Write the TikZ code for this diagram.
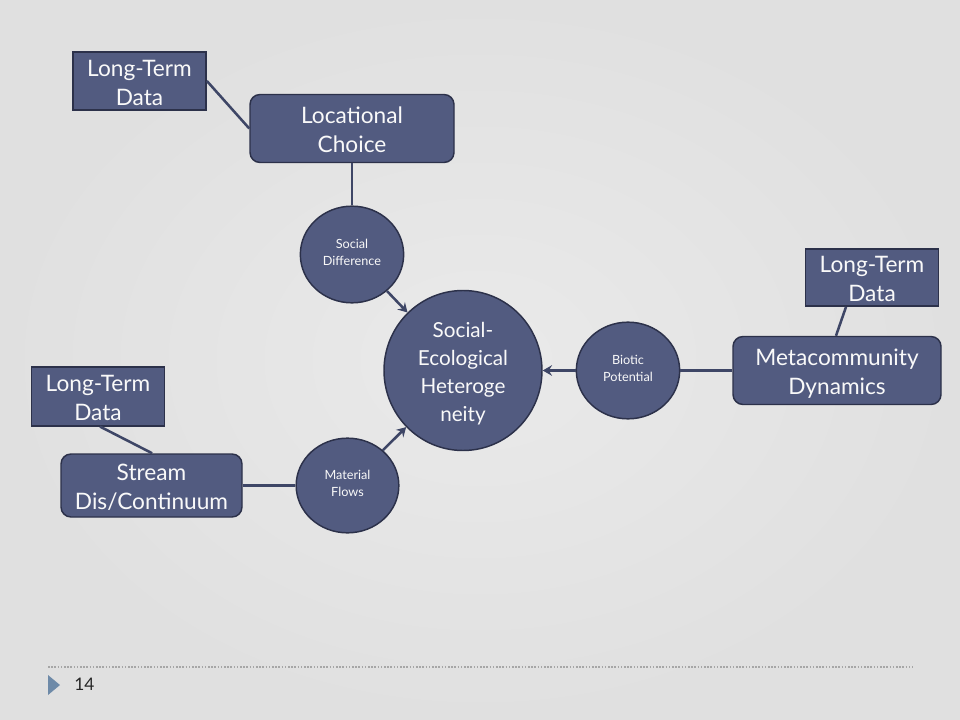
\documentclass[tikz,border=0pt]{standalone}
\usepackage{fontspec}
\setmainfont{Lato}
\usetikzlibrary{arrows.meta,shapes.geometric}
\definecolor{bgin}{RGB}{234,234,234}
\definecolor{bgout}{RGB}{224,224,224}
\definecolor{boxfill}{RGB}{82,91,128}
\definecolor{boxline}{RGB}{44,49,74}
\definecolor{linkcol}{RGB}{62,70,102}
\definecolor{tri}{RGB}{110,138,168}
\newcommand\lowtxt[2]{\raisebox{-#1}[\height][\depth]{\begin{tabular}{@{}c@{}}#2\end{tabular}}}
\tikzset{
  base/.style={fill=boxfill,draw=boxline,line width=1.1pt,text=white!95!gray,align=center,inner sep=0pt},
  datbox/.style={base,rectangle,minimum width=100pt,minimum height=43.5pt,font=\fontsize{17}{21.5}\selectfont},
  bigbox/.style={base,rectangle,rounded corners=7.5pt,minimum height=51pt,font=\fontsize{17}{21.5}\selectfont},
  smallell/.style={base,ellipse,minimum width=77.5pt,minimum height=72.5pt,font=\fontsize{9.5}{13}\selectfont},
  hub/.style={base,ellipse,minimum width=118.5pt,minimum height=120pt,font=\fontsize{15.5}{21}\selectfont},
  link/.style={draw=linkcol,line width=1.9pt},
  arr/.style={link,-{Stealth[length=7pt,width=8pt,inset=2.5pt]}},
}
\begin{document}
\begin{tikzpicture}[x=0.75pt,y=-0.75pt]
\useasboundingbox (0,0) rectangle (960,720);
\shade[inner color=bgin,outer color=bgout] (0,0) rectangle (960,720);

\node[datbox] (ltda) at (139.5,81) {\lowtxt{3pt}{Long-Term\\Data}};
\node[bigbox,minimum width=153pt] (loc) at (352,128.5) {\lowtxt{3pt}{Locational\\Choice}};
\node[smallell] (sd) at (352,254.5) {\lowtxt{-0.5pt}{Social\\Difference}};
\node[hub] (hub) at (463,370.5) {\lowtxt{2.25pt}{Social-\\Ecological\\Heteroge\\neity}};
\node[smallell] (bp) at (628,370.5) {\lowtxt{-0.5pt}{Biotic\\Potential}};
\node[bigbox,minimum width=156pt] (meta) at (837,370.5) {\lowtxt{3pt}{Metacommunity\\Dynamics}};
\node[datbox,minimum height=42.75pt] (ltdr) at (872,277.5) {\lowtxt{3pt}{Long-Term\\Data}};
\node[datbox,minimum height=44pt] (ltdl) at (98,396.5) {\lowtxt{3pt}{Long-Term\\Data}};
\node[bigbox,minimum width=135.75pt,minimum height=47.25pt] (stream) at (151.5,485.5) {\lowtxt{3pt}{Stream\\Dis/Continuum}};
\node[smallell,minimum width=77pt,minimum height=71pt] (mf) at (347.5,485.5) {\lowtxt{-0.5pt}{Material\\Flows}};

\draw[link] (ltda.east) -- (loc.west);
\draw[link] (loc.south) -- (sd.north);
\draw[arr] (sd) -- (hub);
\draw[arr] (bp) -- (hub);
\draw[link] (meta.west) -- (bp.east);
\draw[link] ([xshift=-19.5pt]ltdr.south) -- ([xshift=-0.75pt]meta.north);
\draw[link] ([xshift=1.5pt]ltdl.south) -- ([xshift=0.5pt]stream.north);
\draw[link] (stream.east) -- (mf.west);
\draw[arr] (mf) -- (hub);

% footer
\coordinate (dl) at (48,667);
\coordinate (dr) at (913,667);
\draw[gray!70,line width=0.8pt,dash pattern=on 1.2pt off 1.2pt] (dl) -- (dr);
\fill[tri] (48,675) -- (60,685) -- (48,695) -- cycle;
\node[text=black!85,font=\fontsize{13}{15}\selectfont,anchor=west,inner sep=0pt] (pg) at (74,684) {14};
\end{tikzpicture}
\end{document}
